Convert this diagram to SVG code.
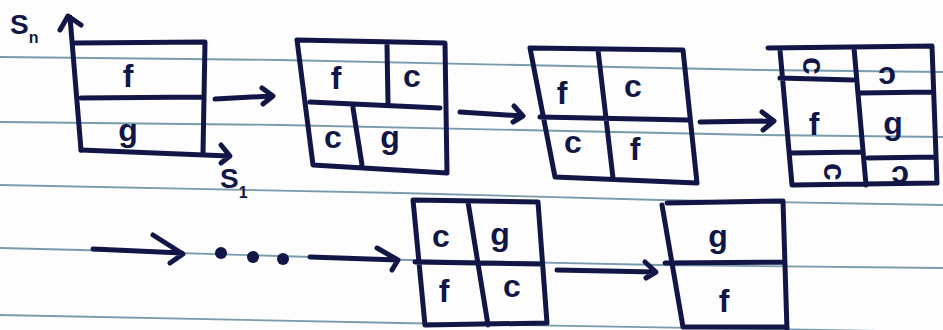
<svg xmlns="http://www.w3.org/2000/svg" width="943" height="330" viewBox="0 0 943 330">
<style>
.rule{fill:none;stroke:#3f7289;stroke-width:1.8;opacity:0.7}
.ink{fill:none;stroke:#111646;stroke-width:5;stroke-linecap:round;stroke-linejoin:round}
.lbl{font-family:"Liberation Sans","DejaVu Sans",sans-serif;font-size:32px;font-weight:bold;fill:#111646;text-anchor:middle}
.ax{font-family:"Liberation Sans","DejaVu Sans",sans-serif;font-size:28px;font-weight:bold;fill:#111646}
.sub{font-size:16px}
</style>
<rect width="943" height="330" fill="#fdfdfd"/>
<g id="paper">
<path class="rule" d="M0,57 L280,60 L760,70 L943,72"/>
<path class="rule" d="M0,122 L280,125 L760,135 L943,137"/>
<path class="rule" d="M0,185 L400,193 L660,200 L943,205"/>
<path class="rule" d="M0,248 L80,250 L410,260 L660,265 L943,268"/>
<path class="rule" d="M0,315 L400,323 L943,332"/>
</g>
<g id="axes">
<path class="ink" d="M81,150 L70,17 M60,30 L68,16 L81,25"/>
<path class="ink" d="M81,150 L229,156 M221,145 L230,156 L221,163"/>
<text class="ax" x="10" y="34">S<tspan class="sub" dy="9">n</tspan></text>
<text class="ax" x="220" y="188">S<tspan class="sub" dy="10">1</tspan></text>
</g>
<g id="box1">
<path class="ink" d="M75,43 L205,42 L203,153 M81,98 L203,97"/>
<text class="lbl" x="128" y="87">f</text>
<text class="lbl" x="128" y="141">g</text>
</g>
<g id="box2">
<path class="ink" d="M297,40 L445,43 L447,173 L313,165 Z M387,45 L388,103 M310,102 L440,108 M353,108 L362,165"/>
<text class="lbl" x="336" y="89">f</text>
<text class="lbl" x="412" y="87">c</text>
<text class="lbl" x="333" y="148">c</text>
<text class="lbl" x="390" y="148">g</text>
</g>
<g id="box3">
<path class="ink" d="M530,48 L683,50 L697,183 L555,177 Z M598,50 L613,178 M540,117 L688,120"/>
<text class="lbl" x="562" y="104">f</text>
<text class="lbl" x="633" y="97">c</text>
<text class="lbl" x="573" y="153">c</text>
<text class="lbl" x="635" y="160">f</text>
</g>
<g id="box4">
<path class="ink" d="M768,48 L932,46 L937,183 L792,185 L780,50 M854,48 L866,185 M780,78 L853,80 M792,153 L863,152 M860,93 L933,92 M868,158 L935,157"/>
<text class="lbl" transform="translate(811,66) rotate(90)" x="0" y="8">c</text>
<text class="lbl" transform="translate(887,75) rotate(180)" x="0" y="8">c</text>
<text class="lbl" x="814" y="135">f</text>
<text class="lbl" x="893" y="134">g</text>
<text class="lbl" transform="translate(832,172) rotate(90)" x="0" y="8">c</text>
<text class="lbl" transform="translate(900,174) rotate(180)" x="0" y="8">c</text>
</g>
<g id="box5">
<path class="ink" d="M413,200 L538,202 L547,323 L425,325 Z M468,202 L488,325 M415,262 L542,264"/>
<text class="lbl" x="441" y="247">c</text>
<text class="lbl" x="500" y="245">g</text>
<text class="lbl" x="444" y="302">f</text>
<text class="lbl" x="512" y="297">c</text>
</g>
<g id="box6">
<path class="ink" d="M667,203 L783,201 L787,330 M662,205 L683,327 L787,327 M665,263 L785,262"/>
<text class="lbl" x="718" y="247">g</text>
<text class="lbl" x="724" y="312">f</text>
</g>
<g id="connectors">
<path class="ink" d="M215,99 L272,96 M262,88 L273,96 L263,104"/>
<path class="ink" d="M460,112 L522,116 M514,106 L523,116 L513,122"/>
<path class="ink" d="M700,122 L773,121 M762,112 L774,121 L763,130"/>
<path class="ink" d="M93,249 L182,253 M153,235 L183,254 L170,263"/>
<circle cx="221" cy="253" r="6" fill="#111646"/>
<circle cx="253" cy="257" r="6" fill="#111646"/>
<circle cx="283" cy="259" r="6" fill="#111646"/>
<path class="ink" d="M310,257 L398,260 M377,248 L398,260 L392,270"/>
<path class="ink" d="M557,270 L655,272 M645,262 L656,272 L646,278"/>
</g>
</svg>
